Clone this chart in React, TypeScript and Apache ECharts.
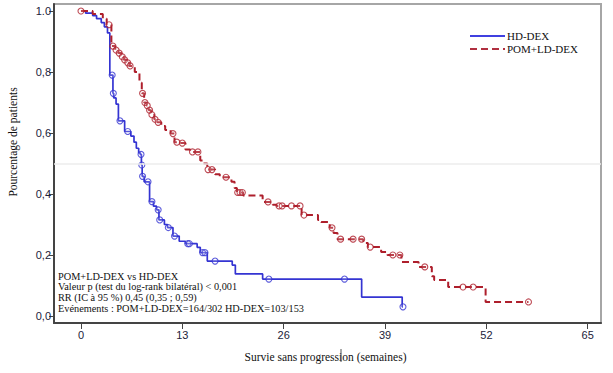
import React, { useEffect, useRef } from "react";
import * as echarts from "echarts";

// HD-DEX Kaplan-Meier steps (time in weeks, survival after the step)
const blueTimes = [0, 0.6, 1.5, 2.0, 2.6, 3.0, 3.4, 3.7, 4.1, 4.2, 4.5, 4.8, 5.6, 6.4, 6.8, 7.1, 7.4, 7.6, 7.75, 7.85, 8.1, 8.8, 9.3, 9.7, 10.0, 10.7, 11.1, 11.8, 12.6, 13.4, 14.9, 15.3, 16.2, 19.4, 19.8, 23.3, 36.0, 41.2];
const blueSurv = [1.0, 0.993, 0.985, 0.975, 0.962, 0.948, 0.928, 0.79, 0.73, 0.715, 0.695, 0.64, 0.605, 0.59, 0.57, 0.55, 0.535, 0.53, 0.495, 0.458, 0.44, 0.375, 0.36, 0.348, 0.315, 0.30, 0.29, 0.262, 0.245, 0.237, 0.225, 0.208, 0.18, 0.167, 0.138, 0.121, 0.062, 0.03];
const blueEnd = 41.3;
const blueCensor = [4.0, 4.15, 5.0, 6.0, 7.7, 7.8, 7.9, 8.6, 9.1, 9.9, 10.1, 11.2, 12.0, 13.7, 13.9, 15.6, 15.9, 17.2, 24.1, 33.8, 41.3];

// POM+LD-DEX Kaplan-Meier steps
const redTimes = [0, 1.5, 2.8, 3.3, 3.9, 4.4, 4.8, 5.2, 5.5, 5.9, 6.2, 6.9, 7.5, 7.8, 8.1, 8.4, 8.7, 9.0, 9.4, 9.8, 10.3, 10.8, 11.5, 12.0, 12.8, 13.4, 14.0, 15.3, 15.7, 16.2, 17.2, 17.8, 19.3, 19.7, 20.0, 20.8, 23.3, 24.6, 25.1, 28.3, 30.4, 30.8, 31.9, 32.4, 32.9, 36.2, 36.8, 38.5, 39.3, 41.1, 43.3, 45.0, 45.3, 47.1, 51.9];
const redSurv = [1.0, 0.99, 0.975, 0.955, 0.885, 0.872, 0.862, 0.85, 0.84, 0.83, 0.82, 0.80, 0.765, 0.73, 0.70, 0.69, 0.675, 0.66, 0.645, 0.635, 0.623, 0.61, 0.598, 0.57, 0.567, 0.546, 0.538, 0.51, 0.50, 0.48, 0.465, 0.455, 0.44, 0.42, 0.405, 0.395, 0.374, 0.365, 0.361, 0.331, 0.315, 0.308, 0.289, 0.272, 0.252, 0.239, 0.226, 0.21, 0.20, 0.177, 0.161, 0.13, 0.118, 0.095, 0.046];
const redEnd = 57.4;
const redCensor = [0, 3.6, 4.1, 4.5, 4.9, 5.3, 5.6, 6.0, 6.3, 7.9, 8.2, 8.5, 8.8, 9.1, 9.5, 9.9, 11.8, 12.3, 13.0, 14.3, 15.0, 16.3, 16.8, 18.6, 20.1, 20.4, 20.7, 24.0, 25.4, 25.8, 27.0, 28.1, 28.6, 32.2, 33.3, 34.9, 36.0, 37.1, 40.0, 40.9, 44.1, 49.0, 50.3, 57.4];

const xTickValues = [0, 13, 26, 39, 52, 65];
const yTickValues = [0, 0.2, 0.4, 0.6, 0.8, 1.0];
const yTickLabels = ["0,0", "0,2", "0,4", "0,6", "0,8", "1.0"];

const seriesNames = ["HD-DEX", "POM+LD-DEX"];
const statLines = [
  "POM+LD-DEX vs HD-DEX",
  "Valeur p (test du log-rank bilatéral) < 0,001",
  "RR (IC à 95 %) 0,45 (0,35 ; 0,59)",
  "Evénements : POM+LD-DEX=164/302 HD-DEX=103/153",
];
const xAxisTitle = "Survie sans progression (semaines)";
const yAxisTitle = "Pourcentage de patients";

const BLUE = "#3434d2";
const RED = "#ae1f2c";
const SERIF = '"Liberation Serif", "Times New Roman", serif';

function survAt(ts: number[], ss: number[], t: number) {
  let s = ss[0];
  for (let i = 0; i < ts.length; i++) if (ts[i] <= t) s = ss[i];
  return s;
}

function lineData(ts: number[], ss: number[], end: number) {
  const d = ts.map((t, i) => [t, ss[i]]);
  d.push([end, ss[ss.length - 1]]);
  return d;
}

export default function App() {
  const ref = useRef<HTMLDivElement>(null);
  useEffect(() => {
    if (!ref.current) return;
    const chart = echarts.init(ref.current, null, { renderer: "svg" });
    const censorStyle = (c: string) => ({
      color: "rgba(255,255,255,0.2)",
      borderColor: c,
      borderWidth: 1.1,
    });
    chart.setOption({
      animation: false,
      grid: {
        left: 54,
        top: 4,
        right: 12,
        bottom: 50,
        show: true,
        borderColor: "#a6a6a6",
        borderWidth: 2,
        backgroundColor: "#fff",
      },
      xAxis: {
        type: "value",
        min: -3.46,
        max: 66.7,
        splitLine: { show: false },
        axisLine: { onZero: false, lineStyle: { color: "#444", width: 2 } },
        axisTick: { customValues: xTickValues, length: 6, lineStyle: { color: "#444" } },
        axisLabel: {
          customValues: xTickValues,
          margin: 6,
          fontSize: 11,
          fontFamily: '"Liberation Sans", Arial, sans-serif',
          color: "#22223a",
        },
      },
      yAxis: {
        type: "value",
        min: -0.023,
        max: 1.023,
        splitLine: { show: false },
        axisLine: { show: true, onZero: false, lineStyle: { color: "#444", width: 2 } },
        axisTick: { show: true, customValues: yTickValues, length: 5, lineStyle: { color: "#444" } },
        axisLabel: {
          customValues: yTickValues,
          margin: 3,
          fontSize: 11,
          fontFamily: '"Liberation Sans", Arial, sans-serif',
          color: "#22223a",
          formatter: (v: number) => {
            const i = yTickValues.findIndex((y) => Math.abs(y - v) < 1e-6);
            return i >= 0 ? yTickLabels[i] : "";
          },
        },
      },
      series: [
        {
          name: seriesNames[0],
          type: "line",
          step: "end",
          symbol: "none",
          data: lineData(blueTimes, blueSurv, blueEnd),
          lineStyle: { color: BLUE, width: 1.7 },
          markLine: {
            silent: true,
            symbol: "none",
            label: { show: false },
            lineStyle: { color: "#ededed", width: 1.5, type: "solid" },
            data: [{ yAxis: 0.5 }],
          },
          z: 3,
        },
        {
          name: seriesNames[1],
          type: "line",
          step: "end",
          symbol: "none",
          data: lineData(redTimes, redSurv, redEnd),
          lineStyle: { color: RED, width: 2, type: [7, 4] },
          z: 3,
        },
        {
          type: "scatter",
          symbol: "circle",
          symbolSize: 6,
          data: blueCensor.map((t) => [t, survAt(blueTimes, blueSurv, t)]),
          itemStyle: censorStyle(BLUE),
          z: 4,
        },
        {
          type: "scatter",
          symbol: "circle",
          symbolSize: 6,
          data: redCensor.map((t) => [t, survAt(redTimes, redSurv, t)]),
          itemStyle: censorStyle(RED),
          z: 4,
        },
      ],
      graphic: [
        {
          type: "line",
          shape: { x1: 470, y1: 36, x2: 505, y2: 36 },
          style: { stroke: "#4040e0", lineWidth: 2 },
          z: 10,
        },
        {
          type: "text",
          x: 507,
          y: 36,
          style: { text: seriesNames[0], fill: "#111", font: `11px ${SERIF}`, verticalAlign: "middle" },
          z: 10,
        },
        {
          type: "line",
          shape: { x1: 470, y1: 49, x2: 505, y2: 49 },
          style: { stroke: "#b03040", lineWidth: 2, lineDash: [7, 4] },
          z: 10,
        },
        {
          type: "text",
          x: 507,
          y: 49,
          style: { text: seriesNames[1], fill: "#111", font: `11px ${SERIF}`, verticalAlign: "middle" },
          z: 10,
        },
        ...statLines.map((s, i) => ({
          type: "text",
          x: 58,
          y: 276 + i * 10.9,
          style: { text: s, fill: "#111", font: `10.3px ${SERIF}`, verticalAlign: "middle" },
          z: 10,
        })),
        {
          type: "text",
          x: 325.5,
          y: 357,
          style: { text: xAxisTitle, fill: "#111", font: `11.5px ${SERIF}`, align: "center", verticalAlign: "middle" },
        },
        {
          type: "line",
          shape: { x1: 341, y1: 349, x2: 341, y2: 362 },
          style: { stroke: "#555", lineWidth: 1 },
        },
        {
          type: "text",
          x: 13,
          y: 142,
          rotation: Math.PI / 2,
          style: { text: yAxisTitle, fill: "#111", font: `11.5px ${SERIF}`, align: "center", verticalAlign: "middle" },
        },
      ],
    });
    return () => chart.dispose();
  }, []);
  return (
    <div
      ref={ref}
      style={{ position: "fixed", left: 0, top: 0, width: 613, height: 373, background: "#fff" }}
    />
  );
}
